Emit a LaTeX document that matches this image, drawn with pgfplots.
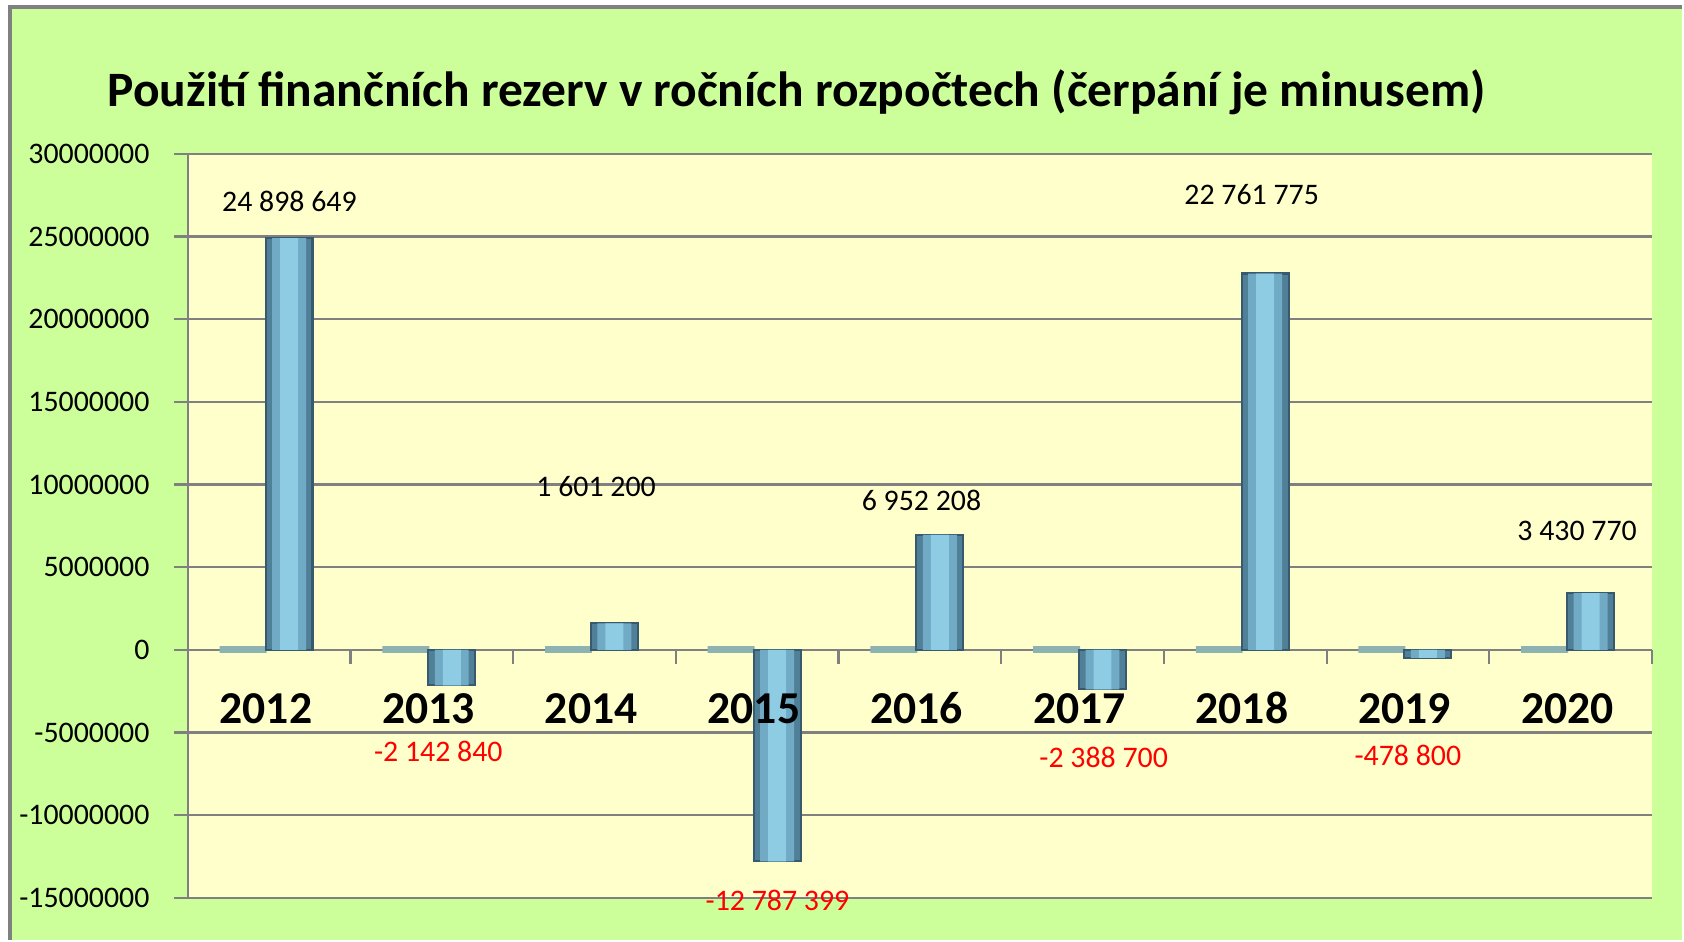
\documentclass[border=0pt]{standalone}
\usepackage{fontspec}
\setmainfont{Carlito}
\usepackage{pgfplots}
\usepackage{pgfplotstable}
\pgfplotsset{compat=1.18}

\definecolor{bgGreen}{RGB}{204,255,153}
\definecolor{plotYellow}{RGB}{255,255,204}
\definecolor{gridGray}{RGB}{128,128,128}
\definecolor{barLight}{RGB}{142,204,228}
\definecolor{barMid}{RGB}{112,170,196}
\definecolor{barDark}{RGB}{80,128,152}
\definecolor{barEdge}{RGB}{55,90,110}
\definecolor{flatBar}{RGB}{140,178,178}
\definecolor{negRed}{RGB}{255,0,0}

% year index, reserve change
\pgfplotstableread{
x value
0 24898649
1 -2142840
2 1601200
3 -12787399
4 6952208
5 -2388700
6 22761775
7 -478800
8 3430770
}\reserves

% year names, baseline just below the zero line
\pgfplotstableread{
x y lab
-0.02 -4470000 2012
0.98 -4470000 2013
1.98 -4470000 2014
2.98 -4470000 2015
3.98 -4470000 2016
4.98 -4470000 2017
5.98 -4470000 2018
6.98 -4470000 2019
7.98 -4470000 2020
}\years

% label positions as Excel placed them
\pgfplotstableread[col sep=comma]{
x,y,lab
0.125,27140000,24 898 649
2.01,9870000,1 601 200
4.01,9030000,6 952 208
6.04,27530000,22 761  775
8.04,7210000,3 430 770
}\posLabels

\pgfplotstableread[col sep=comma]{
x,y,lab
1.04,-6170000,-2 142  840
3.125,-15130000,-12 787 399
5.13,-6490000,-2 388 700
7.0,-6360000,-478 800
}\negLabels

\begin{document}
\begin{tikzpicture}
% chart area (axis box sits with its lower left corner at the origin)
\fill[white] (-1.88,-0.42) rectangle (14.96,8.99);
\fill[bgGreen] (-1.78,-0.42) rectangle (14.96,8.92);
\draw[gridGray, line width=1.2pt] (-1.78,-0.42) -- (-1.78,8.92) -- (14.96,8.92);
\begin{axis}[
  width=14.66cm, height=7.45cm,
  scale only axis,
  clip=false,
  axis x line*=middle,
  axis y line*=left,
  axis line style={draw=gridGray, line width=0.7pt},
  axis background/.style={fill=plotYellow},
  xmin=-0.5, xmax=8.5,
  ymin=-15000000, ymax=30000000,
  ytick distance=5000000,
  scaled y ticks=false,
  ymajorgrids,
  grid style={draw=gridGray, line width=0.6pt},
  hide obscured x ticks=false,
  hide obscured y ticks=false,
  tick align=outside,
  major tick length=0.14cm,
  major y tick style={draw=gridGray, line width=0.6pt},
  y tick label style={font=\fontsize{8.5}{10}\selectfont, xshift=-0.12cm,
    /pgf/number format/.cd, fixed, precision=0, 1000 sep={}, assume math mode=true},
  xtick={-0.5,0.5,...,8.5},
  xticklabels={},
  major x tick style={draw=gridGray, line width=0.6pt},
  title={Použití finančních rezerv v ročních rozpočtech (čerpání je minusem)},
  title style={font=\bfseries\fontsize{14.1}{17}\selectfont, at={(0.416,1)}, anchor=base, yshift=0.26cm},
  every node near coord/.append style={text opacity=1},
]
% empty companion series, shown flat at zero
\addplot[ybar, bar width=0.47cm, bar shift=-0.26cm, draw=flatBar, fill=flatBar, line width=2pt]
  coordinates {(0,0) (1,0) (2,0) (3,0) (4,0) (5,0) (6,0) (7,0) (8,0)};
% main bars, drawn in three widths for a rounded look
\addplot[ybar, bar width=0.47cm, bar shift=0.20cm, draw=barEdge, fill=barDark, line width=0.6pt]
  table[x=x, y=value] {\reserves};
\addplot[ybar, bar width=0.34cm, bar shift=0.20cm, draw=none, fill=barMid]
  table[x=x, y=value] {\reserves};
\addplot[ybar, bar width=0.18cm, bar shift=0.20cm, draw=none, fill=barLight]
  table[x=x, y=value] {\reserves};
% year names
\addplot[only marks, mark=*, mark size=0pt, mark options={draw=none, fill=none},
  nodes near coords, point meta=explicit symbolic,
  nodes near coords style={anchor=base, text=black,
    font=\bfseries\fontsize{13}{15}\selectfont}]
  table[x=x, y=y, meta=lab] {\years};
% value labels
\addplot[only marks, mark=*, mark size=0pt, mark options={draw=none, fill=none},
  nodes near coords, point meta=explicit symbolic,
  nodes near coords style={anchor=center, text=black,
    font=\fontsize{8.5}{10}\selectfont}]
  table[x=x, y=y, meta=lab] {\posLabels};
\addplot[only marks, mark=*, mark size=0pt, mark options={draw=none, fill=none},
  nodes near coords, point meta=explicit symbolic,
  nodes near coords style={anchor=center, text=negRed,
    font=\fontsize{8.5}{10}\selectfont}]
  table[x=x, y=y, meta=lab] {\negLabels};
\end{axis}
\useasboundingbox (-1.88,-0.42) rectangle (14.96,8.99);
\end{tikzpicture}
\end{document}
